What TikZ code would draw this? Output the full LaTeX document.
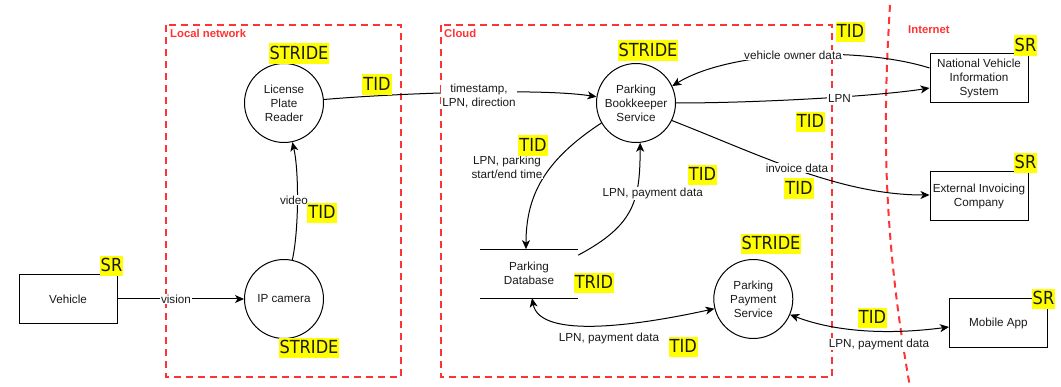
\documentclass[tikz,border=0pt]{standalone}
\usepackage{fontspec}
\setmainfont{Liberation Sans}
\newfontfamily\tagfont[FakeStretch=0.9]{DejaVu Sans}
\usetikzlibrary{arrows.meta}

\definecolor{zonered}{HTML}{FF3333}
\definecolor{tagyellow}{HTML}{FFFF00}
\definecolor{inkgray}{HTML}{1A1A1A}

\begin{document}
\begin{tikzpicture}[x=1pt,y=-1pt,
  every node/.style={font=\fontsize{11.7}{14}\selectfont, text=inkgray},
  proc/.style={circle, draw, line width=1pt, minimum size=79pt, inner sep=0pt, align=center, fill=white},
  ext/.style={rectangle, draw, line width=1pt, minimum width=98pt, minimum height=49pt, inner sep=0pt, align=center, fill=white},
  store/.style={rectangle, minimum width=98pt, minimum height=48.7pt, inner sep=0pt, align=center},
  zone/.style={draw=zonered, line width=2pt, dash pattern=on 7pt off 5pt},
  zonelabel/.style={text=zonered, font=\bfseries\fontsize{11.3}{13}\selectfont, anchor=west, inner sep=0pt},
  tip/.tip={Stealth[length=9pt,width=8pt,inset=2.5pt]},
  flow/.style={line width=1pt, -tip},
  flowboth/.style={line width=1pt, tip-tip},
  elabel/.style={fill=white, inner sep=1pt, align=center},
  tag/.style={fill=tagyellow, text=inkgray, font=\tagfont\fontsize{18}{18}\selectfont,
    inner xsep=1pt, inner ysep=0pt, text height=16.4pt, text depth=4.4pt}
]
\useasboundingbox (0,0) rectangle (1061,387);

% trust boundaries
\draw[zone] (166,25) rectangle (401,377);
\draw[zone] (441,25) rectangle (832,377);
\draw[zone] (890,5) .. controls (883,120) and (882,230) .. (910,387);
\node[zonelabel] (z-local) at (170,33.5) {Local network};
\node[zonelabel] (z-cloud) at (444,33.5) {Cloud};
\node[zonelabel] (z-inet) at (908,29.5) {Internet};

% external entities
\node[ext] (veh) at (68,299) {Vehicle};
\node[ext] (nvis) at (979,78.5) {National Vehicle\\Information\\System};
\node[ext] (eic) at (979,196.5) {External Invoicing\\Company};
\node[ext] (mobile) at (998.5,323.5) {Mobile App};

% processes
\node[proc] (lpr) at (284,103) {License\\Plate\\Reader};
\node[proc] (cam) at (284,299) {IP camera};
\node[proc] (pbs) at (636,103) {Parking\\Bookkeeper\\Service};
\node[proc] (pps) at (753.3,299) {Parking\\Payment\\Service};

% data store
\node[store] (db) at (529,273.7) {Parking\\Database};
\draw[line width=1pt] (db.north west) -- (db.north east) (db.south west) -- (db.south east);

% data flows
\draw[flow] (veh.east) -- (cam.west);
\draw[flow] (cam.78) .. controls (299,230) and (299,170) .. (lpr.-78);
\draw[flow] (lpr.5) .. controls (400,93) and (540,88) .. (pbs.171);
\draw[flow] ([yshift=10.5pt]nvis.west) .. controls (860,46) and (730,50) .. (pbs.25);
\draw[flow] (pbs.east) .. controls (760,103) and (880,96) .. ([yshift=-9.5pt]nvis.west);
\draw[flow] (pbs.-26) .. controls (760,155) and (840,195) .. ([yshift=1.5pt]eic.west);
\draw[flow] (pbs.210) .. controls (545,160) and (526,195) .. ([xshift=-3pt]db.north);
\draw[flow] ([yshift=-6pt]db.north east) .. controls (635,225) and (640,200) .. (pbs.276);
\draw[flowboth] ([xshift=3pt]db.south) .. controls (540,340) and (640,325) .. (pps.194);
\draw[flowboth] (pps.-23) .. controls (830,330) and (880,336) .. ([yshift=-3.5pt]mobile.west);

% flow labels
\node[elabel] (l-vision) at (176,299) {vision};
\node[elabel] (l-video) at (294,200) {video};
\node[elabel] (l-ts) at (479,96) {timestamp,\\LPN, direction};
\node[elabel] (l-owner) at (793,55) {vehicle owner data};
\node[elabel] (l-lpn) at (839.5,98) {LPN};
\node[elabel] (l-invoice) at (797,168) {invoice data};
\node[elabel] (l-park) at (507,167) {LPN, parking\\start/end time};
\node[elabel] (l-pay1) at (652.7,193.5) {LPN, payment data};
\node[elabel] (l-pay2) at (609,338) {LPN, payment data};
\node[elabel] (l-pay3) at (879,344) {LPN, payment data};

% threat tags
\node[tag] (t-lpr) at (299,53.5) {STRIDE};
\node[tag] (t-ts) at (377,84.7) {TID};
\node[tag] (t-pbs) at (648,50.5) {STRIDE};
\node[tag] (t-owner) at (850.5,32) {TID};
\node[tag] (t-lpn) at (810.5,122) {TID};
\node[tag] (t-park) at (533,145.7) {TID};
\node[tag] (t-pay1) at (702.5,175) {TID};
\node[tag] (t-invoice) at (799,188.7) {TID};
\node[tag] (t-nvis) at (1025.5,45.5) {SR};
\node[tag] (t-eic) at (1025.5,163) {SR};
\node[tag] (t-video) at (322,213) {TID};
\node[tag] (t-veh) at (111.5,266) {SR};
\node[tag] (t-cam) at (309,348) {STRIDE};
\node[tag] (t-pps) at (771,244) {STRIDE};
\node[tag] (t-db) at (594,283) {TRID};
\node[tag] (t-pay2) at (683.3,347) {TID};
\node[tag] (t-pay3) at (872.5,318) {TID};
\node[tag] (t-mobile) at (1043.5,299) {SR};
\end{tikzpicture}
\end{document}
